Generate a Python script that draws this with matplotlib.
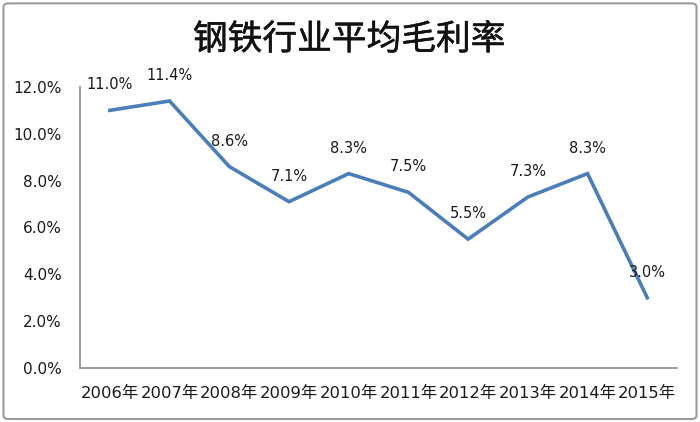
import matplotlib.pyplot as plt
import matplotlib.patheffects as pe
from matplotlib.patches import FancyBboxPatch

plt.rcParams['font.family'] = ['DejaVu Sans', 'Noto Sans CJK SC']

# 数据
years = ['2006年', '2007年', '2008年', '2009年', '2010年',
         '2011年', '2012年', '2013年', '2014年', '2015年']
margin = [11.0, 11.4, 8.6, 7.1, 8.3, 7.5, 5.5, 7.3, 8.3, 3.0]
yticks = [0, 2, 4, 6, 8, 10, 12]

line_color = '#4A7EBB'
axis_color = '#8C8C8C'

fig = plt.figure(figsize=(7, 4.22), dpi=100)

# 外框
border = FancyBboxPatch((0.005, 0.007), 0.99, 0.985, boxstyle='round,pad=0,rounding_size=0.008',
                        transform=fig.transFigure, fill=False, edgecolor='#9A9A9A', linewidth=1.5)
fig.patches.append(border)

ax = fig.add_axes([0.1143, 0.128, 0.853, 0.666])
x = list(range(len(years)))
ax.plot(x, margin, color=line_color, linewidth=2.6, solid_joinstyle='miter')

for xi, v in zip(x, margin):
    ax.annotate(f'{v:.1f}%', (xi, v), xytext=(0, 13), textcoords='offset points',
                ha='center', va='bottom', fontsize=10.5, color='#1a1a1a')

ax.set_xlim(-0.5, len(years) - 0.5)
ax.set_ylim(0, 12)
ax.set_xticks(x)
ax.set_xticklabels(years, fontsize=11.8, color='#1a1a1a')
ax.set_yticks(yticks)
ax.set_yticklabels([f'{t:.1f}%' for t in yticks], fontsize=11, color='#1a1a1a')
ax.tick_params(axis='x', length=0, pad=13)
ax.tick_params(axis='y', length=0, pad=13)

for s in ['top', 'right']:
    ax.spines[s].set_visible(False)
for s in ['left', 'bottom']:
    ax.spines[s].set_color(axis_color)
    ax.spines[s].set_linewidth(1.2)

# 标题略加粗
fig.text(0.499, 0.905, '钢铁行业平均毛利率', ha='center', va='center', fontsize=25,
         family=['Noto Sans CJK SC'], color='#111111',
         path_effects=[pe.withStroke(linewidth=0.35, foreground='#111111')])

fig.savefig('out.png', dpi=100)
